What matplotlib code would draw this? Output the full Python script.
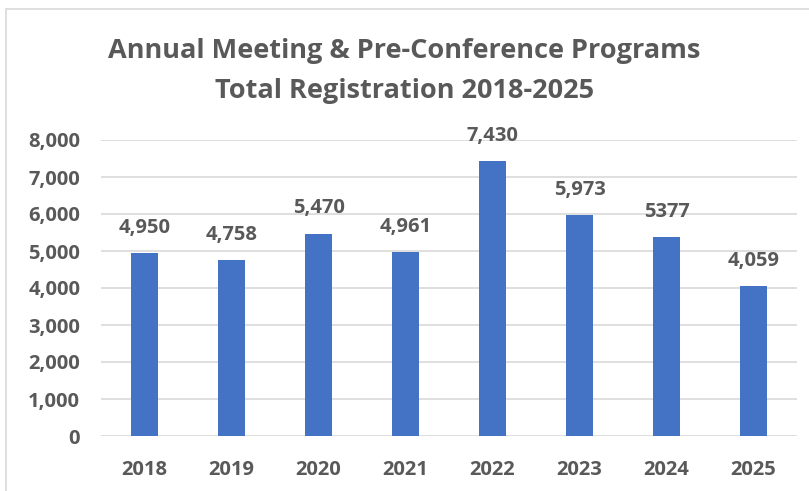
import matplotlib
matplotlib.use("Agg")
from matplotlib import pyplot as plt
from matplotlib.patches import Rectangle
from matplotlib.ticker import FuncFormatter

years = ["2018", "2019", "2020", "2021", "2022", "2023", "2024", "2025"]
registrations = [4950, 4758, 5470, 4961, 7430, 5973, 5377, 4059]
bar_labels = ["4,950", "4,758", "5,470", "4,961", "7,430", "5,973", "5377", "4,059"]
y_ticks = [0, 1000, 2000, 3000, 4000, 5000, 6000, 7000, 8000]

bar_color = "#4472C4"
text_color = "#595959"
grid_color = "#D9D9D9"

plt.rcParams["font.family"] = ["Open Sans", "DejaVu Sans"]

fig = plt.figure(figsize=(8.09, 4.91), dpi=100)
W, H = 809, 491

# light chart border (cropped on right and bottom)
fig.patches.append(Rectangle((6 / W, -0.1), 1.2, 1.1 - 9 / H, transform=fig.transFigure,
                             fill=False, edgecolor="#D9D9D9", linewidth=1.2))

ax = fig.add_axes([101 / W, 1 - 436 / H, 696 / W, 296 / H])
x = range(len(years))
ax.bar(x, registrations, width=0.31, color=bar_color, zorder=3)

for xi, v, lab in zip(x, registrations, bar_labels):
    ax.annotate(lab, xy=(xi, v), xytext=(0, 11), textcoords="offset points",
                ha="center", va="bottom", fontsize=14.5, fontweight="bold", color=text_color)

ax.set_xlim(-0.5, len(years) - 0.5)
ax.set_ylim(0, 8000)
ax.set_yticks(y_ticks)
ax.yaxis.set_major_formatter(FuncFormatter(lambda v, p: f"{int(v):,}"))
ax.set_xticks(list(x))
ax.set_xticklabels(years)
ax.grid(axis="y", color=grid_color, linewidth=1.2, zorder=0)
for s in ax.spines.values():
    s.set_visible(False)
ax.tick_params(axis="both", length=0, labelsize=14.5, labelcolor=text_color)
ax.tick_params(axis="y", pad=15)
ax.tick_params(axis="x", pad=17)
for lab in ax.get_xticklabels() + ax.get_yticklabels():
    lab.set_fontweight("bold")

fig.text(0.5, 1 - 51 / H, "Annual Meeting & Pre-Conference Programs", ha="center", va="center",
         fontsize=19.5, fontweight="bold", color=text_color)
fig.text(0.5, 1 - 91 / H, "Total Registration 2018-2025", ha="center", va="center",
         fontsize=19.5, fontweight="bold", color=text_color)

fig.savefig("out.png", dpi=100)
